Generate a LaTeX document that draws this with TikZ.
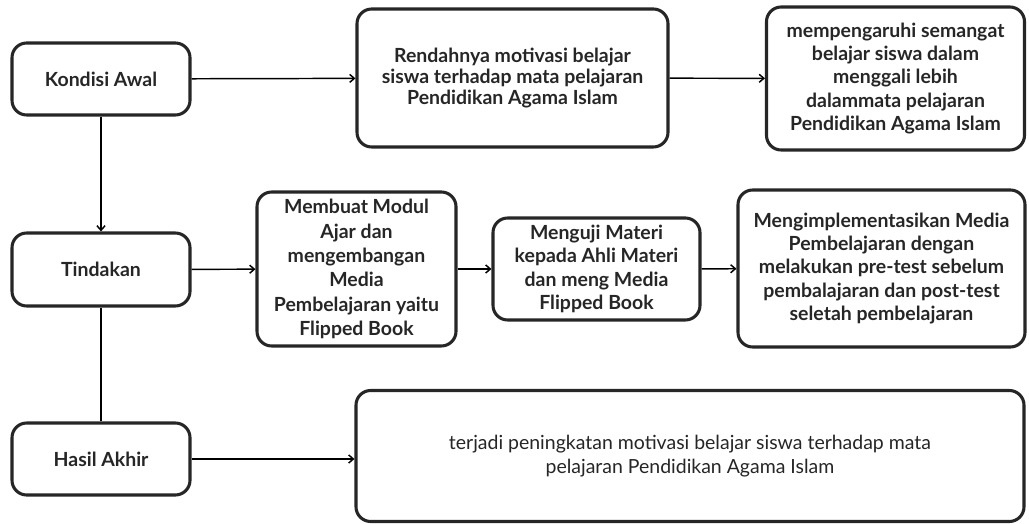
\documentclass[tikz,border=0pt]{standalone}
\usepackage{fontspec}
\setmainfont{Lato}
\usetikzlibrary{arrows.meta}
\tikzset{
  box/.style={draw=black!85, line width=2.3pt, rounded corners=11pt, fill=white,
    align=center, inner sep=0pt, font=\fontsize{14.6pt}{17.3pt}\selectfont\bfseries, text=black!85},
  conn/.style={draw=black, line width=1.1pt},
  arr/.style={conn, -{Straight Barb[length=3.5pt,width=6pt]}},
}
\begin{document}
\begin{tikzpicture}[x=0.75pt,y=-0.75pt]
\useasboundingbox (0,0) rectangle (1029,524);
\node[box, minimum width=178*0.75pt, minimum height=72*0.75pt] (k) at (101,79) {Kondisi Awal};
\node[box, minimum width=178*0.75pt, minimum height=73*0.75pt] (t) at (101,269.5) {Tindakan};
\node[box, minimum width=178*0.75pt, minimum height=72*0.75pt] (h) at (101,459) {Hasil Akhir};
\node[box, minimum width=311*0.75pt, minimum height=138*0.75pt, font=\fontsize{14.6pt}{16pt}\selectfont\bfseries] (r1) at (512.5,78)
  {Rendahnya motivasi belajar\\siswa terhadap mata pelajaran\\Pendidikan Agama Islam};
\node[box, minimum width=258*0.75pt, minimum height=143*0.75pt] (r2) at (895.5,78.5)
  {mempengaruhi semangat\\belajar siswa dalam\\menggali lebih\\dalammata pelajaran\\Pendidikan Agama Islam};
\node[box, minimum width=199*0.75pt, minimum height=154*0.75pt, font=\fontsize{14.6pt}{18.2pt}\selectfont\bfseries] (m1) at (356.5,269)
  {Membuat Modul\\Ajar dan\\mengembangan\\Media\\Pembelajaran yaitu\\Flipped Book};
\node[box, minimum width=207*0.75pt, minimum height=102*0.75pt, font=\fontsize{14.6pt}{17.6pt}\selectfont\bfseries] (m2) at (596.5,269)
  {Menguji Materi\\kepada Ahli Materi\\dan meng Media\\Flipped Book};
\node[box, minimum width=287*0.75pt, minimum height=157*0.75pt] (m3) at (881.5,268.5)
  {Mengimplementasikan Media\\Pembelajaran dengan\\melakukan pre-test sebelum\\pembalajaran dan post-test\\seletah pembelajaran};
\node[box, minimum width=668*0.75pt, minimum height=131*0.75pt, font=\fontsize{14.6pt}{18pt}\selectfont\mdseries] (r3) at (690,456)
  {\raisebox{-3pt}{\parbox{440pt}{\centering terjadi peningkatan motivasi belajar siswa terhadap mata\\pelajaran Pendidikan Agama Islam}}};
\draw[arr] (k) -- (r1);
\draw[arr] (r1) -- (r2);
\draw[arr] (k) -- (t);
\draw[conn] (t) -- (h);
\draw[arr] (t) -- (m1);
\draw[arr] (m1) -- (m2);
\draw[arr] (m2) -- (m3);
\draw[arr] (h) -- (h -| r3.west);
\end{tikzpicture}
\end{document}
